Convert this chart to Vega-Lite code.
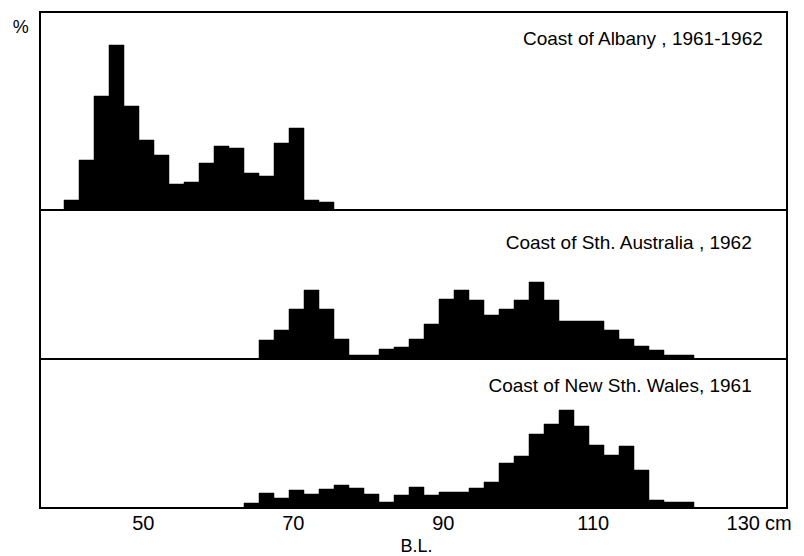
{
  "$schema": "https://vega.github.io/schema/vega-lite/v6.json",
  "background": "white",
  "padding": {"left": 11, "top": 11, "right": 0, "bottom": 0},
  "spacing": 0,
  "bounds": "flush",
  "config": {
    "view": {"stroke": "black", "strokeWidth": 2},
    "font": "Liberation Sans",
    "text": {"font": "Liberation Sans", "color": "black"}
  },
  "datasets": {
    "lengths": [
      {"coast": "Albany", "lo": 39.5, "hi": 41.5, "pct": 1.0},
      {"coast": "Albany", "lo": 41.5, "hi": 43.5, "pct": 5.0},
      {"coast": "Albany", "lo": 43.5, "hi": 45.5, "pct": 11.4},
      {"coast": "Albany", "lo": 45.5, "hi": 47.5, "pct": 16.5},
      {"coast": "Albany", "lo": 47.5, "hi": 49.5, "pct": 10.4},
      {"coast": "Albany", "lo": 49.5, "hi": 51.5, "pct": 7.0},
      {"coast": "Albany", "lo": 51.5, "hi": 53.5, "pct": 5.5},
      {"coast": "Albany", "lo": 53.5, "hi": 55.5, "pct": 2.6},
      {"coast": "Albany", "lo": 55.5, "hi": 57.5, "pct": 2.8},
      {"coast": "Albany", "lo": 57.5, "hi": 59.5, "pct": 4.7},
      {"coast": "Albany", "lo": 59.5, "hi": 61.5, "pct": 6.4},
      {"coast": "Albany", "lo": 61.5, "hi": 63.5, "pct": 6.2},
      {"coast": "Albany", "lo": 63.5, "hi": 65.5, "pct": 3.7},
      {"coast": "Albany", "lo": 65.5, "hi": 67.5, "pct": 3.4},
      {"coast": "Albany", "lo": 67.5, "hi": 69.5, "pct": 6.7},
      {"coast": "Albany", "lo": 69.5, "hi": 71.5, "pct": 8.2},
      {"coast": "Albany", "lo": 71.5, "hi": 73.5, "pct": 1.0},
      {"coast": "Albany", "lo": 73.5, "hi": 75.5, "pct": 0.8},
      {"coast": "SA", "lo": 65.5, "hi": 67.5, "pct": 1.9},
      {"coast": "SA", "lo": 67.5, "hi": 69.5, "pct": 2.9},
      {"coast": "SA", "lo": 69.5, "hi": 71.5, "pct": 5.0},
      {"coast": "SA", "lo": 71.5, "hi": 73.5, "pct": 6.9},
      {"coast": "SA", "lo": 73.5, "hi": 75.5, "pct": 5.0},
      {"coast": "SA", "lo": 75.5, "hi": 77.5, "pct": 2.0},
      {"coast": "SA", "lo": 77.5, "hi": 79.5, "pct": 0.4},
      {"coast": "SA", "lo": 79.5, "hi": 81.5, "pct": 0.4},
      {"coast": "SA", "lo": 81.5, "hi": 83.5, "pct": 1.0},
      {"coast": "SA", "lo": 83.5, "hi": 85.5, "pct": 1.2},
      {"coast": "SA", "lo": 85.5, "hi": 87.5, "pct": 2.0},
      {"coast": "SA", "lo": 87.5, "hi": 89.5, "pct": 3.5},
      {"coast": "SA", "lo": 89.5, "hi": 91.5, "pct": 6.0},
      {"coast": "SA", "lo": 91.5, "hi": 93.5, "pct": 6.9},
      {"coast": "SA", "lo": 93.5, "hi": 95.5, "pct": 5.9},
      {"coast": "SA", "lo": 95.5, "hi": 97.5, "pct": 4.4},
      {"coast": "SA", "lo": 97.5, "hi": 99.5, "pct": 5.0},
      {"coast": "SA", "lo": 99.5, "hi": 101.5, "pct": 5.9},
      {"coast": "SA", "lo": 101.5, "hi": 103.5, "pct": 7.7},
      {"coast": "SA", "lo": 103.5, "hi": 105.5, "pct": 5.9},
      {"coast": "SA", "lo": 105.5, "hi": 107.5, "pct": 3.8},
      {"coast": "SA", "lo": 107.5, "hi": 109.5, "pct": 3.8},
      {"coast": "SA", "lo": 109.5, "hi": 111.5, "pct": 3.8},
      {"coast": "SA", "lo": 111.5, "hi": 113.5, "pct": 2.9},
      {"coast": "SA", "lo": 113.5, "hi": 115.5, "pct": 2.0},
      {"coast": "SA", "lo": 115.5, "hi": 117.5, "pct": 1.3},
      {"coast": "SA", "lo": 117.5, "hi": 119.5, "pct": 0.9},
      {"coast": "SA", "lo": 119.5, "hi": 121.5, "pct": 0.4},
      {"coast": "SA", "lo": 121.5, "hi": 123.5, "pct": 0.4},
      {"coast": "NSW", "lo": 63.5, "hi": 65.5, "pct": 0.5},
      {"coast": "NSW", "lo": 65.5, "hi": 67.5, "pct": 1.5},
      {"coast": "NSW", "lo": 67.5, "hi": 69.5, "pct": 1.0},
      {"coast": "NSW", "lo": 69.5, "hi": 71.5, "pct": 1.8},
      {"coast": "NSW", "lo": 71.5, "hi": 73.5, "pct": 1.4},
      {"coast": "NSW", "lo": 73.5, "hi": 75.5, "pct": 1.9},
      {"coast": "NSW", "lo": 75.5, "hi": 77.5, "pct": 2.3},
      {"coast": "NSW", "lo": 77.5, "hi": 79.5, "pct": 2.0},
      {"coast": "NSW", "lo": 79.5, "hi": 81.5, "pct": 1.4},
      {"coast": "NSW", "lo": 81.5, "hi": 83.5, "pct": 0.6},
      {"coast": "NSW", "lo": 83.5, "hi": 85.5, "pct": 1.3},
      {"coast": "NSW", "lo": 85.5, "hi": 87.5, "pct": 2.1},
      {"coast": "NSW", "lo": 87.5, "hi": 89.5, "pct": 1.3},
      {"coast": "NSW", "lo": 89.5, "hi": 91.5, "pct": 1.6},
      {"coast": "NSW", "lo": 91.5, "hi": 93.5, "pct": 1.6},
      {"coast": "NSW", "lo": 93.5, "hi": 95.5, "pct": 2.0},
      {"coast": "NSW", "lo": 95.5, "hi": 97.5, "pct": 2.6},
      {"coast": "NSW", "lo": 97.5, "hi": 99.5, "pct": 4.5},
      {"coast": "NSW", "lo": 99.5, "hi": 101.5, "pct": 5.2},
      {"coast": "NSW", "lo": 101.5, "hi": 103.5, "pct": 7.4},
      {"coast": "NSW", "lo": 103.5, "hi": 105.5, "pct": 8.4},
      {"coast": "NSW", "lo": 105.5, "hi": 107.5, "pct": 9.8},
      {"coast": "NSW", "lo": 107.5, "hi": 109.5, "pct": 8.2},
      {"coast": "NSW", "lo": 109.5, "hi": 111.5, "pct": 6.3},
      {"coast": "NSW", "lo": 111.5, "hi": 113.5, "pct": 5.3},
      {"coast": "NSW", "lo": 113.5, "hi": 115.5, "pct": 6.2},
      {"coast": "NSW", "lo": 115.5, "hi": 117.5, "pct": 3.8},
      {"coast": "NSW", "lo": 117.5, "hi": 119.5, "pct": 0.8},
      {"coast": "NSW", "lo": 119.5, "hi": 121.5, "pct": 0.6},
      {"coast": "NSW", "lo": 121.5, "hi": 123.5, "pct": 0.6}
    ]
  },
  "vconcat": [
    {
      "width": 747,
      "height": 198,
      "layer": [
        {
          "data": {"name": "lengths"},
          "transform": [{"filter": "datum.coast == 'Albany'"}],
          "mark": {"type": "bar", "color": "black", "stroke": "black", "strokeWidth": 0.5},
          "encoding": {
            "x": {"field": "lo", "type": "quantitative", "scale": {"domain": [36.3, 135.9], "nice": false, "zero": false}, "axis": null},
            "x2": {"field": "hi"},
            "y": {"field": "pct", "type": "quantitative", "scale": {"domain": [0, 19.8], "nice": false}, "axis": null},
            "y2": {"datum": 0}
          }
        },
        {
          "data": {"values": [{"label": "Coast of Albany , 1961-1962"}]},
          "mark": {"type": "text", "align": "right", "baseline": "alphabetic", "fontSize": 19},
          "encoding": {
            "x": {"datum": 132.67, "type": "quantitative"},
            "y": {"datum": 16.5, "type": "quantitative"},
            "text": {"field": "label"}
          }
        },
        {
          "data": {"values": [{"label": "%"}]},
          "mark": {"type": "text", "align": "left", "baseline": "middle", "fontSize": 18},
          "encoding": {
            "x": {"datum": 32.67, "type": "quantitative"},
            "y": {"datum": 18.25, "type": "quantitative"},
            "text": {"field": "label"}
          }
        }
      ]
    },
    {
      "width": 747,
      "height": 149,
      "layer": [
        {
          "data": {"name": "lengths"},
          "transform": [{"filter": "datum.coast == 'SA'"}],
          "mark": {"type": "bar", "color": "black", "stroke": "black", "strokeWidth": 0.5},
          "encoding": {
            "x": {"field": "lo", "type": "quantitative", "scale": {"domain": [36.3, 135.9], "nice": false, "zero": false}, "axis": null},
            "x2": {"field": "hi"},
            "y": {"field": "pct", "type": "quantitative", "scale": {"domain": [0, 14.9], "nice": false}, "axis": null},
            "y2": {"datum": 0}
          }
        },
        {
          "data": {"values": [{"label": "Coast of Sth. Australia , 1962"}]},
          "mark": {"type": "text", "align": "right", "baseline": "alphabetic", "fontSize": 19},
          "encoding": {
            "x": {"datum": 131.2, "type": "quantitative"},
            "y": {"datum": 11.0, "type": "quantitative"},
            "text": {"field": "label"}
          }
        }
      ]
    },
    {
      "width": 747,
      "height": 149,
      "layer": [
        {
          "data": {"name": "lengths"},
          "transform": [{"filter": "datum.coast == 'NSW'"}],
          "mark": {"type": "bar", "color": "black", "stroke": "black", "strokeWidth": 0.5},
          "encoding": {
            "x": {
              "field": "lo",
              "type": "quantitative",
              "scale": {"domain": [36.3, 135.9], "nice": false, "zero": false},
              "axis": {
                "values": [50, 70, 90, 110, 130, 134.67],
                "labelExpr": "datum.value > 131 ? 'cm' : datum.label",
                "domain": false,
                "ticks": false,
                "grid": false,
                "labelPadding": 5,
                "labelFontSize": 20,
                "labelFont": "Liberation Sans",
                "labelColor": "black",
                "labelFlush": false,
                "labelOverlap": false,
                "title": "B.L.",
                "titleFont": "Liberation Sans",
                "titleFontSize": 18,
                "titleFontWeight": "normal",
                "titleColor": "black",
                "titleX": 376,
                "titleY": 29,
                "titleAlign": "center",
                "titleBaseline": "top",
                "titleAnchor": null
              }
            },
            "x2": {"field": "hi"},
            "y": {"field": "pct", "type": "quantitative", "scale": {"domain": [0, 14.9], "nice": false}, "axis": null},
            "y2": {"datum": 0}
          }
        },
        {
          "data": {"values": [{"label": "Coast of New Sth. Wales, 1961"}]},
          "mark": {"type": "text", "align": "right", "baseline": "alphabetic", "fontSize": 19},
          "encoding": {
            "x": {"datum": 131.2, "type": "quantitative"},
            "y": {"datum": 11.6, "type": "quantitative"},
            "text": {"field": "label"}
          }
        }
      ]
    }
  ]
}
